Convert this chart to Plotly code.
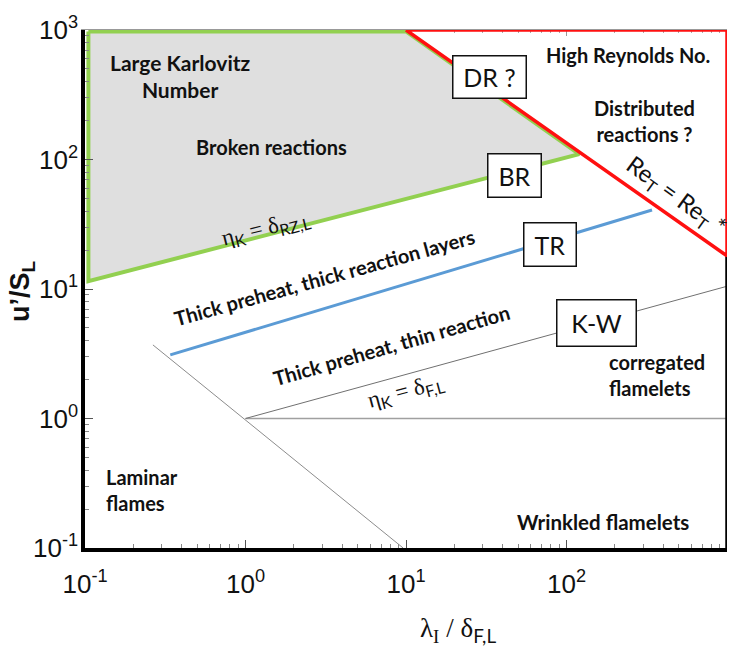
import plotly.graph_objects as go

# ---------------- data ----------------
tick_vals = [0.1, 1, 10, 100, 1000]
tick_labels = ["10<sup>-1</sup>", "10<sup>0</sup>", "10<sup>1</sup>", "10<sup>2</sup>", "10<sup>3</sup>"]
minor_vals = [m * d for d in (0.1, 1, 10, 100) for m in range(2, 10)]

# broken-reaction zone (grey, green border)
broken_x = [0.105, 10, 120, 0.105, 0.105]
broken_y = [975, 975, 110, 11.5, 975]

# distributed-reaction zone (red triangle)
distrib_x = [10, 1000, 1000, 10]
distrib_y = [1000, 1000, 18, 1000]

# thick-reaction-layer boundary (blue)
thin_rx = [0.34, 341]
thin_ry = [3.1, 40.7]

# eta_K = delta_F,L line
kolmo_x = [1, 1000]
kolmo_y = [1, 10.5]

# laminar boundary
lam_x = [0.265, 9.6]
lam_y = [3.7, 0.1]

# u'/S_L = 1 line
unity_x = [1, 1000]
unity_y = [1, 1]

# right frame (black, below red corner)
frame_x = [1000, 1000]
frame_y = [0.1, 18]

fig = go.Figure()

fig.add_trace(go.Scatter(x=broken_x, y=broken_y, mode="lines", fill="toself",
                         fillcolor="#dfdfdf", line=dict(color="#92d050", width=4),
                         cliponaxis=False, hoverinfo="skip", showlegend=False))
fig.add_trace(go.Scatter(x=lam_x, y=lam_y, mode="lines",
                         line=dict(color="#8c8c8c", width=1), cliponaxis=False,
                         hoverinfo="skip", showlegend=False))
fig.add_trace(go.Scatter(x=unity_x, y=unity_y, mode="lines",
                         line=dict(color="#a0a0a0", width=1.3), cliponaxis=False,
                         hoverinfo="skip", showlegend=False))
fig.add_trace(go.Scatter(x=kolmo_x, y=kolmo_y, mode="lines",
                         line=dict(color="#707070", width=1), cliponaxis=False,
                         hoverinfo="skip", showlegend=False))
fig.add_trace(go.Scatter(x=thin_rx, y=thin_ry, mode="lines",
                         line=dict(color="#5b9bd5", width=3), cliponaxis=False,
                         hoverinfo="skip", showlegend=False))
fig.add_trace(go.Scatter(x=frame_x, y=frame_y, mode="lines",
                         line=dict(color="black", width=3.5), cliponaxis=False,
                         hoverinfo="skip", showlegend=False))
fig.add_trace(go.Scatter(x=distrib_x, y=distrib_y, mode="lines", xaxis="x2",
                         line=dict(color="#ff1010", width=3.5), cliponaxis=False,
                         hoverinfo="skip", showlegend=False))

BOLD = "Lato, 'Open Sans', Arial, sans-serif"
SERIF = "'Liberation Serif', 'DejaVu Serif', serif"
TICKF = "'Liberation Sans', Arial, sans-serif"
SUBSPAN = "<sub><span style='font-family:Lato'>{}</span></sub>"

def label(text, x, y, size=20, angle=0, family=BOLD, align="center", xanchor="center"):
    fig.add_annotation(text=text, x=x, y=y, xref="x", yref="y", showarrow=False,
                       textangle=angle, align=align, xanchor=xanchor, yanchor="middle",
                       font=dict(family=family, size=size, color="#111"))

label("<b>Large Karlovitz<br>Number</b>", -0.408, 2.645, size=21)
label("<b>Broken reactions</b>", 0.165, 2.097, size=20)
label("<b>High Reynolds No.</b>", 2.383, 2.807, size=20)
label("<b>Distributed<br>reactions ?</b>", 2.483, 2.297, size=20)
label("<b>corregated<br>flamelets</b>", 2.252, 0.336, size=20, align="left", xanchor="left")
label("<b>Laminar<br>flames</b>", -0.882, -0.552, size=20, align="left", xanchor="left")
label("<b>Wrinkled flamelets</b>", 2.227, -0.799, size=20.5)
label("<b>Thick preheat, thick reaction layers</b>", 0.495, 1.093, size=20, angle=-15.5)
label("<b>Thick preheat, thin reaction</b>", 0.907, 0.568, size=20, angle=-16)
label("η" + SUBSPAN.format("K") + " = δ" + SUBSPAN.format("RZ,L"), 0.128, 1.463,
      size=23, angle=-14, family=SERIF)
label("η" + SUBSPAN.format("K") + " = δ" + SUBSPAN.format("F,L"), 1.0, 0.205,
      size=23, angle=-15, family=SERIF)
label("Re<sub>T</sub> = Re<sub>T</sub> *", 2.682, 1.718, size=24, angle=36, family=BOLD)

def box(text, x, y, w, h):
    fig.add_annotation(text=text, x=x, y=y, xref="x", yref="y", showarrow=False,
                       width=w, height=h, bgcolor="white", bordercolor="#111",
                       borderwidth=1.5, borderpad=0,
                       font=dict(family=BOLD, size=25, color="#111"))

box("DR ?", 1.523, 2.637, 72, 41)
box("BR", 1.679, 1.880, 52, 42)
box("TR", 1.897, 1.340, 51, 42)
box("K-W", 2.184, 0.737, 78, 45)

W, H = 739, 652
L, R, T, B = 85, 12, 30, 104
PW, PH = W - L - R, H - T - B

def px_x(p):
    return (p - L) / PW

def px_y(p):
    return 1 - (p - T) / PH

# axis titles
fig.add_annotation(text="<b>u’/S<sub>L</sub></b>", x=px_x(22), y=px_y(292),
                   xref="paper", yref="paper", xanchor="center", yanchor="middle",
                   showarrow=False, textangle=-90,
                   font=dict(family="Arial, 'Liberation Sans', sans-serif", size=27, color="#111"))
fig.add_annotation(text="λ<sub>I</sub> / δ" + SUBSPAN.format("F,L"), x=px_x(458), y=px_y(630),
                   xref="paper", yref="paper", xanchor="center", yanchor="middle",
                   showarrow=False,
                   font=dict(family=SERIF, size=27, color="#111"))

axis_common = dict(type="log", range=[-1, 3], showgrid=False, zeroline=False,
                   tickmode="array", tickvals=tick_vals, ticktext=tick_labels,
                   ticks="inside", ticklen=8, tickwidth=1, tickcolor="#555",
                   minor=dict(tickmode="array", tickvals=minor_vals, ticks="inside",
                              ticklen=4, tickcolor="#888", showgrid=False),
                   showline=True, linecolor="black", linewidth=3.5,
                   tickfont=dict(family=TICKF, size=26, color="#111"))

fig.update_layout(
    width=W, height=H,
    margin=dict(l=L, r=R, t=T, b=B),
    paper_bgcolor="white", plot_bgcolor="white",
    showlegend=False,
    xaxis=dict(**axis_common, ticklabelstandoff=10),
    yaxis=dict(**axis_common, ticklabelstandoff=-2),
    xaxis2=dict(type="log", range=[-1, 3], overlaying="x", side="top", anchor="y",
                showgrid=False, zeroline=False, showticklabels=False,
                tickmode="array", tickvals=tick_vals,
                ticks="inside", ticklen=6, tickcolor="#999",
                minor=dict(tickmode="array", tickvals=minor_vals, ticks="inside",
                           ticklen=3, tickcolor="#aaa"),
                showline=True, linecolor="#999", linewidth=1, layer="below traces"),
)

fig.write_html("out.html", config={"displayModeBar": False},
               post_script="document.body.style.margin='0px';")
